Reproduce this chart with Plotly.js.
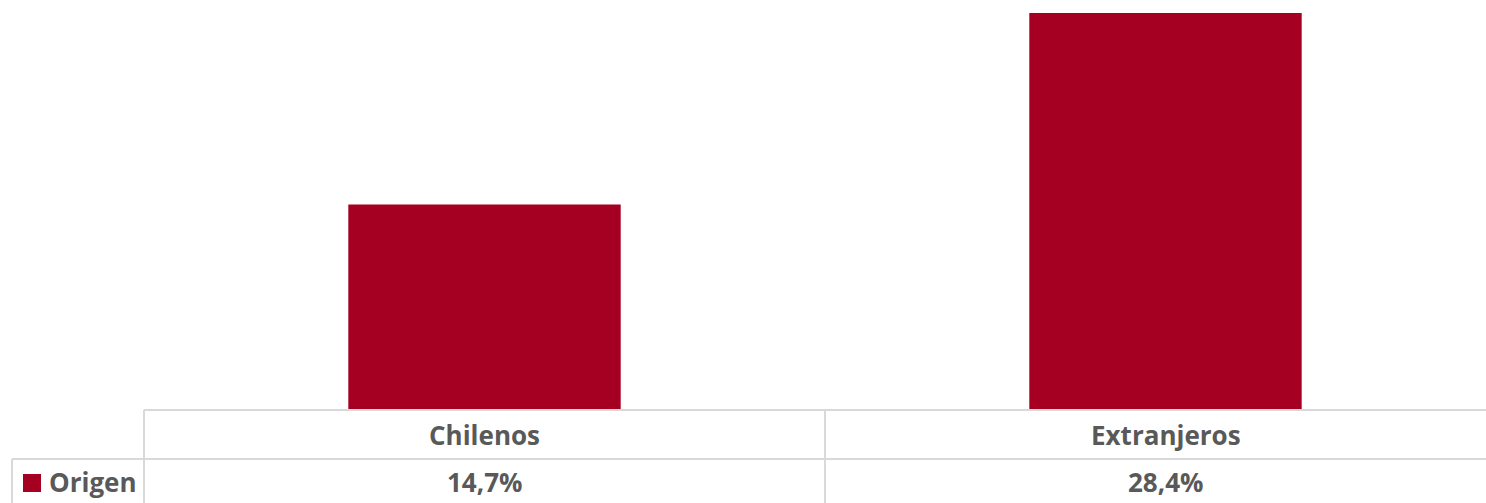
<!DOCTYPE html>
<html>
<head>
<meta charset="utf-8">
<script src="https://cdn.plot.ly/plotly-3.0.1.min.js"></script>
<style>html,body{margin:0;padding:0;background:#fff;}#chart{width:1486px;height:503px;}</style>
</head>
<body>
<div id="chart"></div>
<script>
const categories = ["Chilenos", "Extranjeros"];
const values = [14.7, 28.4];
const seriesName = "Origen";

const barColor = "#A50021";
const textColor = "#595959";
const gridColor = "#D9D9D9";
const W = 1486, H = 503;
const mL = 144, mB = 93;
const plotW = W - mL, plotH = H - mB;
const catW = 681; // pixel width of one category
const xMax = -0.5 + plotW / catW;

function px2paperX(px) { return (px - mL) / plotW; }
function py2paperY(py) { return (plotH - py) / plotH; }

const fmt = v => v.toFixed(1).replace('.', ',') + '%';

const trace = {
  type: 'bar',
  x: categories,
  y: values,
  name: seriesName,
  marker: { color: barColor },
  width: 0.4,
  hoverinfo: 'none'
};

const font = { family: '"Open Sans", sans-serif', size: 26, color: textColor };
const annotations = [];
categories.forEach((c, i) => {
  annotations.push({ x: c, xref: 'x', y: py2paperY(435), yref: 'paper', text: '<b>' + c + '</b>', showarrow: false, font: font, xanchor: 'center', yanchor: 'middle' });
  annotations.push({ x: c, xref: 'x', y: py2paperY(482), yref: 'paper', text: '<b>' + fmt(values[i]) + '</b>', showarrow: false, font: font, xanchor: 'center', yanchor: 'middle' });
});
annotations.push({ x: px2paperX(47), xref: 'paper', y: py2paperY(482), yref: 'paper', text: '<b>' + seriesName + '</b>', showarrow: false, font: font, xanchor: 'left', yanchor: 'middle' });

const line = { color: gridColor, width: 2 };
const shapes = [
  { type: 'line', xref: 'paper', yref: 'paper', x0: 0, x1: 1.02, y0: py2paperY(410), y1: py2paperY(410), line: line },
  { type: 'line', xref: 'paper', yref: 'paper', x0: px2paperX(12), x1: 1.02, y0: py2paperY(459), y1: py2paperY(459), line: line },
  { type: 'line', xref: 'paper', yref: 'paper', x0: 0, x1: 0, y0: py2paperY(410), y1: py2paperY(510), line: line },
  { type: 'line', xref: 'x', yref: 'paper', x0: 0.5, x1: 0.5, y0: py2paperY(410), y1: py2paperY(510), line: line },
  { type: 'line', xref: 'paper', yref: 'paper', x0: px2paperX(12), x1: px2paperX(12), y0: py2paperY(459), y1: py2paperY(510), line: line },
  { type: 'rect', xref: 'paper', yref: 'paper', x0: px2paperX(23), x1: px2paperX(41), y0: py2paperY(474), y1: py2paperY(492), fillcolor: barColor, line: { width: 0 } }
];

const layout = {
  width: W, height: H,
  margin: { l: mL, r: 0, t: 0, b: mB, pad: 0 },
  paper_bgcolor: '#fff', plot_bgcolor: '#fff',
  showlegend: false,
  xaxis: { type: 'category', range: [-0.5, xMax], showticklabels: false, showgrid: false, zeroline: false, showline: false, ticks: '' },
  yaxis: { range: [0, plotH / 13.98], showticklabels: false, showgrid: false, zeroline: false, showline: false, ticks: '' },
  annotations: annotations,
  shapes: shapes
};

Plotly.newPlot('chart', [trace], layout, { staticPlot: true, displayModeBar: false });
</script>
</body>
</html>
